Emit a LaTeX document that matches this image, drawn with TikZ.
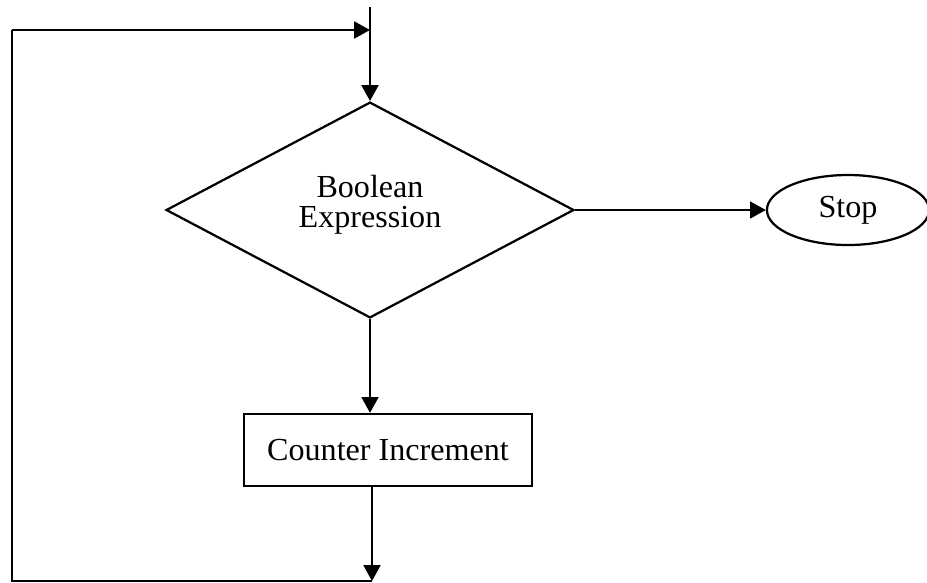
\documentclass[tikz,border=0pt]{standalone}
\usepackage{fontspec}
\setmainfont{Liberation Serif}
\usetikzlibrary{shapes.geometric,arrows.meta}

\begin{document}
\begin{tikzpicture}[x=0.38pt, y=-0.38pt, line width=0.85pt,
  >={Triangle[length=6pt,width=6.4pt]},
  every node/.style={font=\fontsize{12.2}{11.6}\selectfont},
  decision/.style={diamond, draw, inner sep=0pt, minimum width=155pt, minimum height=82pt, align=center, text depth=6.6pt},
  process/.style={rectangle, draw, inner sep=0pt, minimum width=109.4pt, minimum height=27.4pt},
  terminal/.style={ellipse, draw, inner sep=0pt, minimum width=61.6pt, minimum height=26.6pt}]
\clip (0,0) rectangle (927,582);

\node[decision] (cond) at (370,210) {Boolean\\Expression};
\node[terminal] (stop) at (848,210) {Stop};
\node[process] (incr) at (388,450) {Counter Increment};

\coordinate (entry) at (370,7);
\coordinate (join) at (370,30);
\coordinate (exit) at (372,581);
\coordinate (lowleft) at (12,581);
\coordinate (upleft) at (12,30);

\draw (entry) -- (join);
\draw[->] (join) -- (cond.north);
\draw[->] (cond) -- (stop);
\draw[->] (cond.south) -- (cond.south |- incr.north);
\draw[->] (incr.south -| exit) -- (exit);
\draw (exit) -- (lowleft) -- (upleft);
\draw[->] (upleft) -- (join);
\end{tikzpicture}
\end{document}
